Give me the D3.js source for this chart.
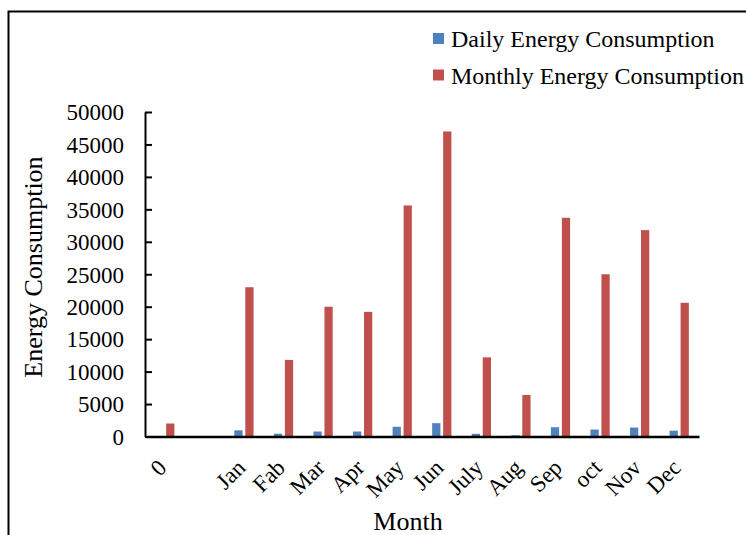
<!DOCTYPE html>
<html>
<head>
<meta charset="utf-8">
<script src="https://cdn.jsdelivr.net/npm/d3@7"></script>
<style>
  html, body { margin: 0; padding: 0; background: #fff; }
  svg { display: block; }
  text { font-family: "Liberation Serif", "Times New Roman", serif; fill: #000; }
</style>
</head>
<body>
<svg id="chart" width="746" height="535"></svg>
<script>
// Month categories (first slot is "0", second is an empty spacer)
const categories = ["0", "", "Jan", "Fab", "Mar", "Apr", "May", "Jun", "July", "Aug", "Sep", "oct", "Nov", "Dec"];
const dailyEnergy = [null, null, 950, 430, 770, 770, 1500, 2050, 410, 200, 1430, 1070, 1380, 900];
const monthlyEnergy = [2000, null, 23000, 11800, 20000, 19200, 35600, 47000, 12200, 6400, 33700, 25000, 31800, 20600];
const seriesNames = ["Daily Energy Consumption", "Monthly Energy Consumption"];
const seriesColors = ["#4F81BD", "#C0504D"];
const yTicks = [0, 5000, 10000, 15000, 20000, 25000, 30000, 35000, 40000, 45000, 50000];

const svg = d3.select("#chart");
const W = 746, H = 535;
const plot = { left: 145, right: 699, top: 112, bottom: 436.5 };

// outer frame
svg.append("rect")
  .attr("x", 8.5).attr("y", 11.5)
  .attr("width", W + 20).attr("height", H + 20)
  .attr("fill", "none").attr("stroke", "#000").attr("stroke-width", 2);

const x0 = d3.scaleBand().domain(categories.map((c, i) => i)).range([plot.left, plot.right]).padding(0);
const x1 = d3.scaleBand().domain([0, 1]).range([0, x0.bandwidth()]).paddingInner(0.25).paddingOuter(0.925);
const y = d3.scaleLinear().domain([0, 50000]).range([plot.bottom, plot.top]);

const rows = categories.map((c, i) => ({ i, c, vals: [dailyEnergy[i], monthlyEnergy[i]] }));

// bars
const g = svg.append("g");
rows.forEach(r => {
  r.vals.forEach((v, k) => {
    if (v == null) return;
    g.append("rect")
      .attr("x", x0(r.i) + x1(k))
      .attr("y", y(v))
      .attr("width", x1.bandwidth())
      .attr("height", plot.bottom - y(v))
      .attr("fill", seriesColors[k]);
  });
});

// y axis with inward ticks
const yAxis = d3.axisLeft(y).tickValues(yTicks).tickFormat(d3.format("d"))
  .tickSizeInner(-7).tickSizeOuter(0).tickPadding(21);
const yg = svg.append("g").attr("transform", `translate(${plot.left},0)`).call(yAxis);
yg.select(".domain").attr("stroke", "#000").attr("stroke-width", 2);
yg.selectAll(".tick line").attr("stroke", "#000").attr("stroke-width", 2);
yg.selectAll(".tick text").attr("font-size", 23).attr("font-family", "Liberation Serif").attr("dy", "0.34em");

// x axis baseline
const xAxis = d3.axisBottom(x0).tickSize(0).tickFormat(() => "");
const xg = svg.append("g").attr("transform", `translate(0,${plot.bottom})`).call(xAxis);
xg.select(".domain").attr("stroke", "#000").attr("stroke-width", 2.5);
xg.selectAll(".tick text").remove();

// rotated month labels
svg.append("g").selectAll("text")
  .data(rows)
  .join("text")
  .attr("text-anchor", "end")
  .attr("font-size", 23)
  .attr("transform", d => `translate(${x0(d.i) + x0.bandwidth() / 2 + 3},469) rotate(-45)`)
  .text(d => d.c);

// axis titles
svg.append("text")
  .attr("text-anchor", "middle")
  .attr("font-size", 26)
  .attr("transform", "translate(42,267) rotate(-90)")
  .text("Energy Consumption");

svg.append("text")
  .attr("x", 408).attr("y", 530)
  .attr("text-anchor", "middle")
  .attr("font-size", 26)
  .text("Month");

// legend
const lg = svg.append("g");
seriesNames.forEach((name, k) => {
  const yy = 47 + k * 36.5;
  lg.append("rect")
    .attr("x", 433).attr("y", yy - 14)
    .attr("width", 11).attr("height", 11)
    .attr("fill", seriesColors[k]);
  lg.append("text")
    .attr("x", 451).attr("y", yy)
    .attr("font-size", 24)
    .text(name);
});
</script>
</body>
</html>
